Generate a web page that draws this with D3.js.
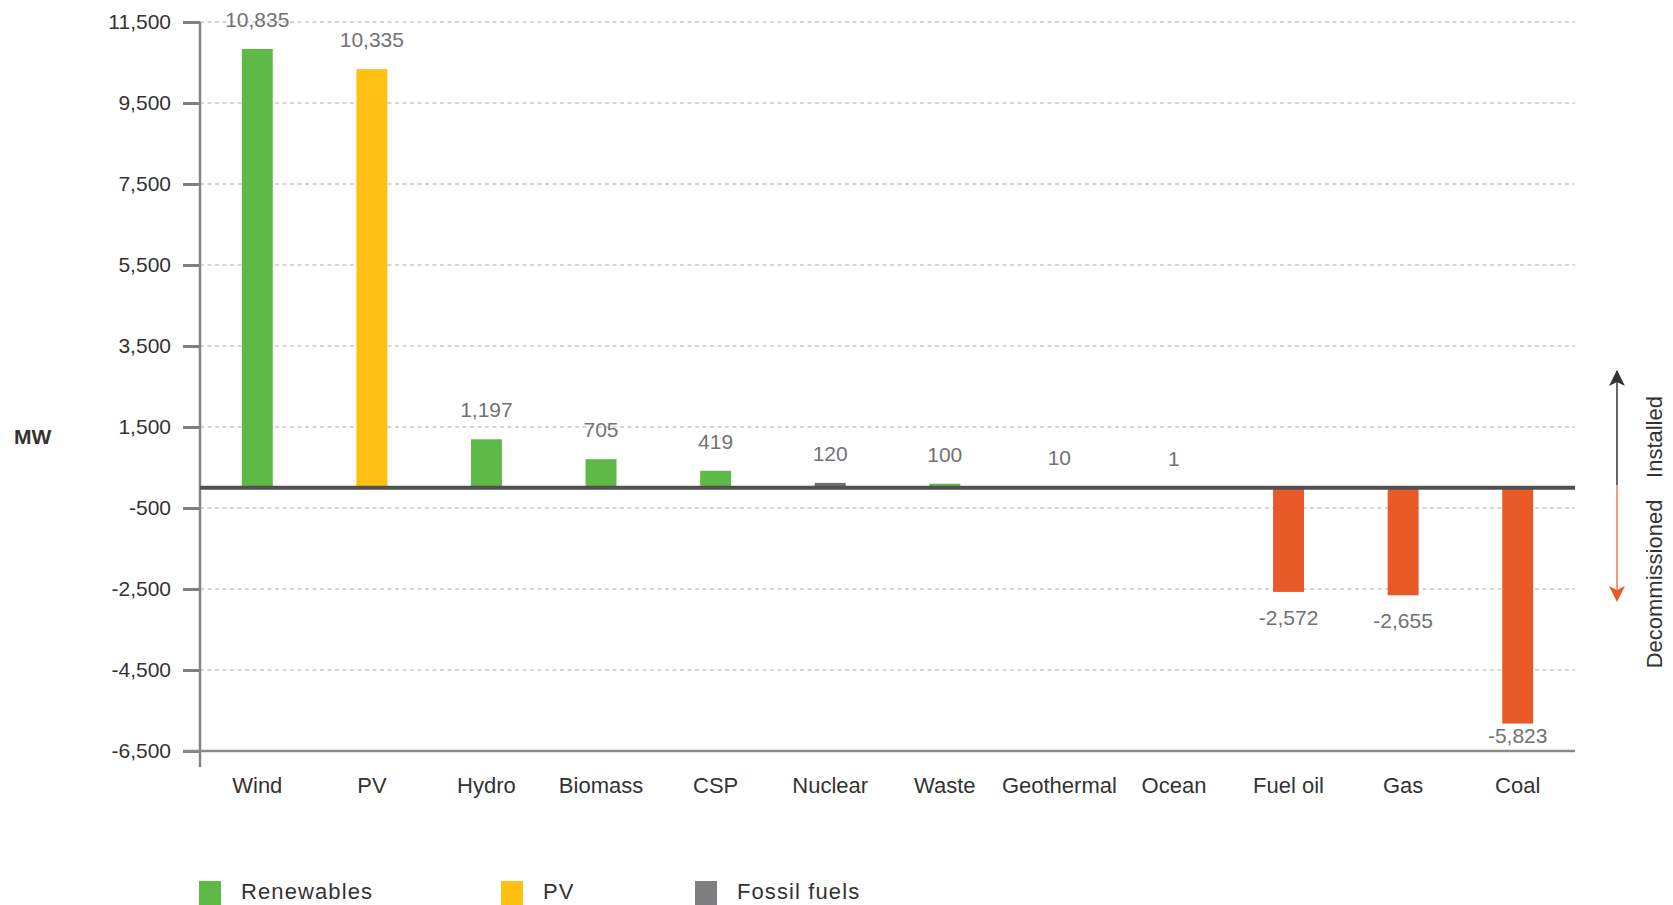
<!DOCTYPE html>
<html>
<head>
<meta charset="utf-8">
<script src="https://cdn.jsdelivr.net/npm/d3@7"></script>
<style>
  html, body { margin: 0; padding: 0; background: #fff; }
  svg { display: block; font-family: "Liberation Sans", Arial, Helvetica, sans-serif; }
</style>
</head>
<body>
<svg id="chart" width="1673" height="905"></svg>
<script>
// ---- data ----
const categories = ["Wind", "PV", "Hydro", "Biomass", "CSP", "Nuclear", "Waste", "Geothermal", "Ocean", "Fuel oil", "Gas", "Coal"];
const values = [10835, 10335, 1197, 705, 419, 120, 100, 10, 1, -2572, -2655, -5823];
const types = ["renewable", "pv", "renewable", "renewable", "renewable", "fossil", "renewable", "renewable", "renewable", "decommissioned", "decommissioned", "decommissioned"];
const yTicks = [11500, 9500, 7500, 5500, 3500, 1500, -500, -2500, -4500, -6500];
const legendLabels = ["Renewables", "PV", "Fossil fuels"];
const legendTypes = ["renewable", "pv", "fossil"];

const colors = {
  renewable: "#5fb946",
  pv: "#fec111",
  fossil: "#6e6e70",
  decommissioned: "#e85a28"
};
const legendColors = { renewable: "#5fb946", pv: "#fec111", fossil: "#7f7f81" };

const fmt = v => d3.format(",")(v).replace("\u2212", "-");

const svg = d3.select("#chart");
const pLeft = 200, pRight = 1575, pTop = 22, pBottom = 751;

const x = d3.scaleBand().domain(categories).range([pLeft, pRight]).paddingInner(0.73).paddingOuter(0.365);
const y = d3.scaleLinear().domain([-6500, 11500]).range([pBottom, pTop]);

// gridlines
svg.append("g").selectAll("line").data(yTicks.filter(t => t !== -6500)).join("line")
  .attr("x1", pLeft).attr("x2", pRight)
  .attr("y1", d => y(d)).attr("y2", d => y(d))
  .attr("stroke", "#c9c9c9").attr("stroke-width", 1.5)
  .attr("stroke-dasharray", "4,3.5");

// y axis
const yAxis = d3.axisLeft(y).tickValues(yTicks).tickSize(17).tickPadding(12)
  .tickFormat(fmt);
const gy = svg.append("g").attr("transform", `translate(${pLeft},0)`).call(yAxis);
gy.select(".domain").remove();
gy.selectAll(".tick line").attr("stroke", "#808080").attr("stroke-width", 3);
gy.selectAll(".tick text").attr("fill", "#333").attr("font-size", 21)
  .attr("font-family", "'Liberation Sans', Arial, sans-serif");
svg.append("line").attr("x1", pLeft).attr("x2", pLeft).attr("y1", pTop).attr("y2", 767)
  .attr("stroke", "#858585").attr("stroke-width", 2.5);

// bottom axis
svg.append("line").attr("x1", 183).attr("x2", pRight).attr("y1", pBottom).attr("y2", pBottom)
  .attr("stroke", "#8a8a8a").attr("stroke-width", 2.5);

// category labels
const xAxis = d3.axisBottom(x).tickSize(0).tickPadding(0);
const gx = svg.append("g").attr("transform", `translate(0,${pBottom})`).call(xAxis);
gx.select(".domain").remove();
gx.selectAll(".tick text").attr("fill", "#333").attr("font-size", 22)
  .attr("font-family", "'Liberation Sans', Arial, sans-serif")
  .attr("dy", 0).attr("y", 42);

// bars
const data = categories.map((c, i) => ({ c, v: values[i], t: types[i] }));
svg.append("g").selectAll("rect").data(data).join("rect")
  .attr("x", d => x(d.c))
  .attr("width", x.bandwidth())
  .attr("y", d => Math.min(y(d.v), y(0)))
  .attr("height", d => Math.abs(y(d.v) - y(0)))
  .attr("fill", d => colors[d.t]);

// zero line
svg.append("line").attr("x1", pLeft).attr("x2", pRight).attr("y1", y(0)).attr("y2", y(0))
  .attr("stroke", "#505050").attr("stroke-width", 4);

// value labels
svg.append("g").selectAll("text").data(data).join("text")
  .attr("x", d => x(d.c) + x.bandwidth() / 2)
  .attr("y", d => d.v >= 0 ? y(d.v) - 22 : Math.min(y(d.v) + 33, pBottom - 8))
  .attr("text-anchor", "middle")
  .attr("font-size", 21)
  .attr("fill", "#727272")
  .text(d => fmt(d.v));

// MW label
svg.append("text").attr("x", 14).attr("y", 444).attr("font-size", 21).attr("font-weight", "bold")
  .attr("fill", "#333").text("MW");

// arrows
const ax = 1617;
const midY = 485;
svg.append("line").attr("x1", ax).attr("x2", ax).attr("y1", midY).attr("y2", 371)
  .attr("stroke", "#333").attr("stroke-width", 1.5);
svg.append("path").attr("d", `M${ax},370 L${ax - 8},386 L${ax},382 L${ax + 8},386 Z`).attr("fill", "#333");
svg.append("line").attr("x1", ax).attr("x2", ax).attr("y1", midY).attr("y2", 600)
  .attr("stroke", "#ef7a52").attr("stroke-width", 1.5);
svg.append("path").attr("d", `M${ax},602 L${ax - 8},586 L${ax},590 L${ax + 8},586 Z`).attr("fill", "#e85a28");

svg.append("text").attr("transform", `translate(1662,437) rotate(-90)`).attr("text-anchor", "middle")
  .attr("font-size", 22).attr("fill", "#333").text("Installed");
svg.append("text").attr("transform", `translate(1662,584) rotate(-90)`).attr("text-anchor", "middle")
  .attr("font-size", 22).attr("fill", "#333").text("Decommissioned");

// legend
const legendX = [199, 501, 695];
const lg = svg.append("g").selectAll("g").data(legendLabels).join("g")
  .attr("transform", (d, i) => `translate(${legendX[i]},881)`);
lg.append("rect").attr("width", 22).attr("height", 26).attr("fill", (d, i) => legendColors[legendTypes[i]]);
lg.append("text").attr("x", 42).attr("y", 18).attr("font-size", 22).attr("letter-spacing", 1.1)
  .attr("fill", "#333").text(d => d);
</script>
</body>
</html>
